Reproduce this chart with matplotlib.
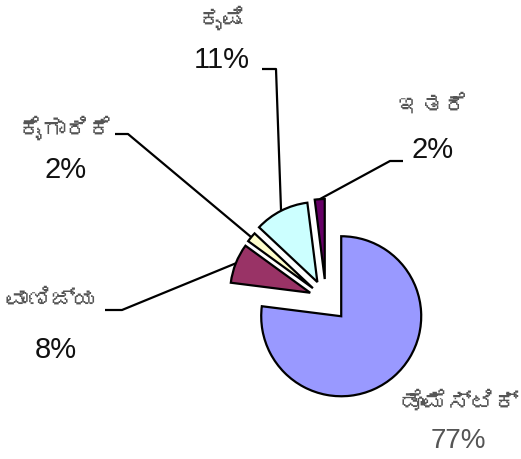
import numpy as np
import matplotlib
matplotlib.use('Agg')
import matplotlib.pyplot as plt
from matplotlib import font_manager
from fontTools.ttLib import TTFont

# -- -----------------------------
# data
labels   = ['ಡೊಮೆಸ್ಟಿಕ್', 'ವಾಣಿಜ್ಯ', 'ಕೈಗಾರಿಕೆ', 'ಕೃಷಿ', 'ಇತರೆ']
shares   = [77, 8, 2, 11, 2]
pct_text = ['77%', '8%', '2%', '11%', '2%']
colors   = ['#9999FF', '#993366', '#FFFFCC', '#CCFFFF', '#660066']
# -- -----------------------------


# -- -----------------------------
def find_kannada_font():
    """Return the name of an installed font with Kannada glyphs, if any."""
    for f in font_manager.fontManager.ttflist:
        try:
            cmap = TTFont(f.fname, fontNumber=0, lazy=True).getBestCmap()
        except Exception:
            continue
        if cmap and 0x0C95 in cmap:
            return f.name
    return None


kn_font = find_kannada_font()
kn_family = [kn_font, 'DejaVu Sans'] if kn_font else ['DejaVu Sans']
# -- -----------------------------


W, H = 521, 460
fig = plt.figure(figsize=(W / 100, H / 100), dpi=100)
ax = fig.add_axes([0, 0, 1, 1])

# explode is in data units (pixels here), not a fraction of the radius
explode = [23, 17, 17, 19, 20]

wedges, _ = ax.pie(
    shares,
    colors        = colors,
    startangle    = 90,
    counterclock  = False,
    explode       = explode,
    center        = (326, H - 300),
    radius        = 80,
    frame         = True,
    wedgeprops    = dict(edgecolor='black', linewidth=1.6),
)
ax.set_xlim(0, W)
ax.set_ylim(0, H)
ax.set_aspect('equal')
ax.axis('off')


# -- -----------------------------
# label layout: name / pct centres, leader elbow and end (pixels from top)
layout = {
    0: dict(name=(460, 402), pct=(458, 441), elbow=None),
    1: dict(name=(52, 300),  pct=(56, 350),  elbow=(122, 311), end=(105, 311)),
    2: dict(name=(66, 128),  pct=(66, 170),  elbow=(128, 135), end=(115, 135)),
    3: dict(name=(222, 18),  pct=(222, 60),  elbow=(276, 70),  end=(262, 70)),
    4: dict(name=(433, 105), pct=(433, 150), elbow=(390, 162), end=(403, 162)),
}

for i, w in enumerate(wedges):
    lay = layout[i]
    nx, ny = lay['name']
    px, py = lay['pct']

    ax.text(nx, H - ny, labels[i], ha='center', va='center',
            fontsize=17, color='#555555', family=kn_family)

    if i == 0:
        # the domestic share is printed lighter in the original
        ax.text(px, H - py, pct_text[i], ha='center', va='center',
                fontsize=20, color='#555555', family='Liberation Sans')
    else:
        ax.text(px, H - py, pct_text[i], ha='center', va='center',
                fontsize=21, color='#111111', family='Liberation Sans')

    if lay['elbow'] is not None:
        mid = np.deg2rad((w.theta1 + w.theta2) / 2)
        cx, cy = w.center
        tip = (cx + w.r * np.cos(mid), cy + w.r * np.sin(mid))
        ex, ey = lay['elbow']
        lx, ly = lay['end']
        ax.plot([tip[0], ex, lx], [tip[1], H - ey, H - ly],
                color='black', linewidth=1.6, solid_capstyle='butt')

fig.savefig('out.png', dpi=100)
